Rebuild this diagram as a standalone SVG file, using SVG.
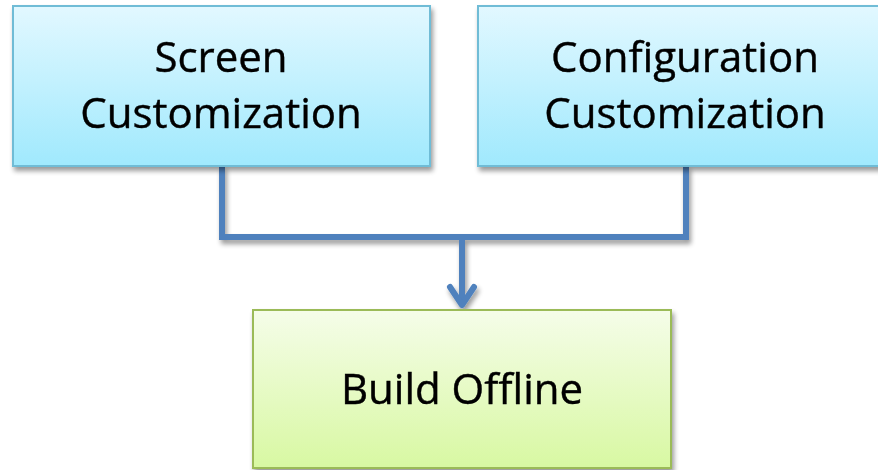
<svg xmlns="http://www.w3.org/2000/svg" width="878" height="470" viewBox="0 0 878 470">
<style>
.lbl{font-family:"Open Sans","Liberation Sans",sans-serif;font-size:42px;fill:#000;text-anchor:middle;stroke:#000;stroke-width:0.4}
.blue{fill:url(#gBlue);stroke:#6FBCD6;stroke-width:2}
.green{fill:url(#gGreen);stroke:#9BBB59;stroke-width:2}
.conn{fill:none;stroke:#4F81BD;stroke-width:6}
</style>
<defs>
<linearGradient id="gBlue" x1="0" y1="0" x2="0" y2="1">
<stop offset="0" stop-color="#E2F8FF"/>
<stop offset="1" stop-color="#A0E9FD"/>
</linearGradient>
<linearGradient id="gGreen" x1="0" y1="0" x2="0" y2="1">
<stop offset="0" stop-color="#F5FDE9"/>
<stop offset="1" stop-color="#D8F8A2"/>
</linearGradient>
<filter id="sh" x="-10%" y="-10%" width="130%" height="130%">
<feGaussianBlur in="SourceAlpha" stdDeviation="2.5"/>
<feOffset dx="2" dy="4" result="b"/>
<feComponentTransfer><feFuncA type="linear" slope="0.4"/></feComponentTransfer>
<feMerge><feMergeNode/><feMergeNode in="SourceGraphic"/></feMerge>
</filter>
</defs>
<g id="connectors" filter="url(#sh)">
<path class="conn" d="M222,166 V237 H686 V166"/>
<path class="conn" d="M462,237 V305"/>
<path class="conn" d="M450,287 L462,305 L474,287" stroke-width="7" stroke-linecap="round" stroke-linejoin="round"/>
</g>
<g id="screen" filter="url(#sh)">
<rect class="blue" x="13" y="6" width="417" height="160"/>
<text class="lbl" x="221" y="72">Screen</text>
<text class="lbl" x="221" y="128">Customization</text>
</g>
<g id="config" filter="url(#sh)">
<rect class="blue" x="478" y="6" width="417" height="160"/>
<text class="lbl" x="685" y="72">Configuration</text>
<text class="lbl" x="685" y="128">Customization</text>
</g>
<g id="build" filter="url(#sh)">
<rect class="green" x="253" y="310" width="418" height="158"/>
<text class="lbl" x="462" y="404">Build Offline</text>
</g>
</svg>
